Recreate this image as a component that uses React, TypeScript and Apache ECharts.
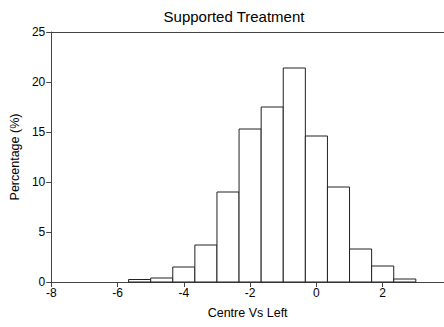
import React, { useEffect, useRef } from "react";
import * as echarts from "echarts";

const binEdges = [-17 / 3, -5, -13 / 3, -11 / 3, -3, -7 / 3, -5 / 3, -1, -1 / 3, 1 / 3, 1, 5 / 3, 7 / 3, 3];
const percentages = [0.25, 0.4, 1.5, 3.7, 9.0, 15.3, 17.5, 21.4, 14.6, 9.5, 3.3, 1.6, 0.3];
const xTicks = { min: -8, max: 3.85, interval: 2 };
const yTicks = { min: 0, max: 25, interval: 5 };

const FONT = "Liberation Sans, Arial, sans-serif";

export default function App() {
  const ref = useRef<HTMLDivElement>(null);
  useEffect(() => {
    if (!ref.current) return;
    const chart = echarts.init(ref.current, undefined, { renderer: "svg" });
    const data = percentages.map((v, i) => [binEdges[i], binEdges[i + 1], v]);
    chart.setOption({
      animation: false,
      title: {
        text: "Supported Treatment",
        left: 229,
        textAlign: "center",
        top: 4,
        textStyle: { fontFamily: FONT, fontSize: 15, fontWeight: "normal", color: "#000" },
      },
      grid: { left: 49, top: 32, bottom: 45, right: 0 },
      xAxis: [
        {
          type: "value",
          min: xTicks.min,
          max: xTicks.max,
          interval: xTicks.interval,
          name: "Centre Vs Left",
          nameLocation: "middle",
          nameGap: 24,
          nameTextStyle: { fontFamily: FONT, fontSize: 12.5, color: "#000" },
          axisLine: { show: true, onZero: false, lineStyle: { color: "#444", width: 1 } },
          axisTick: { show: true, length: 5, inside: false, lineStyle: { color: "#444" } },
          axisLabel: { fontFamily: FONT, fontSize: 12, color: "#000", margin: 5, showMaxLabel: false },
          splitLine: { show: false },
        },
        {
          type: "value",
          position: "top",
          min: xTicks.min,
          max: xTicks.max,
          axisLine: { show: true, onZero: false, lineStyle: { color: "#444", width: 1 } },
          axisTick: { show: false },
          axisLabel: { show: false },
          splitLine: { show: false },
        },
      ],
      yAxis: {
        type: "value",
        min: yTicks.min,
        max: yTicks.max,
        interval: yTicks.interval,
        name: "Percentage (%)",
        nameLocation: "middle",
        nameGap: 25,
        nameTextStyle: { fontFamily: FONT, fontSize: 12.5, color: "#000" },
        axisLine: { show: true, onZero: false, lineStyle: { color: "#444", width: 1 } },
        axisTick: { show: true, length: 5, inside: false, lineStyle: { color: "#444" } },
        axisLabel: { fontFamily: FONT, fontSize: 12, color: "#000", margin: 6 },
        splitLine: { show: false },
      },
      series: [
        {
          type: "custom",
          xAxisIndex: 0,
          encode: { x: [0, 1], y: 2 },
          data,
          renderItem: (params: any, api: any) => {
            const p0 = api.coord([api.value(0), api.value(2)]);
            const p1 = api.coord([api.value(1), 0]);
            return {
              type: "rect",
              shape: { x: p0[0], y: p0[1], width: p1[0] - p0[0], height: p1[1] - p0[1] },
              style: { fill: "#fff", stroke: "#222", lineWidth: 1 },
            };
          },
        },
      ],
    });
    return () => chart.dispose();
  }, []);
  return (
    <div
      ref={ref}
      style={{ position: "absolute", left: 0, top: 0, width: 444, height: 327 }}
    />
  );
}
